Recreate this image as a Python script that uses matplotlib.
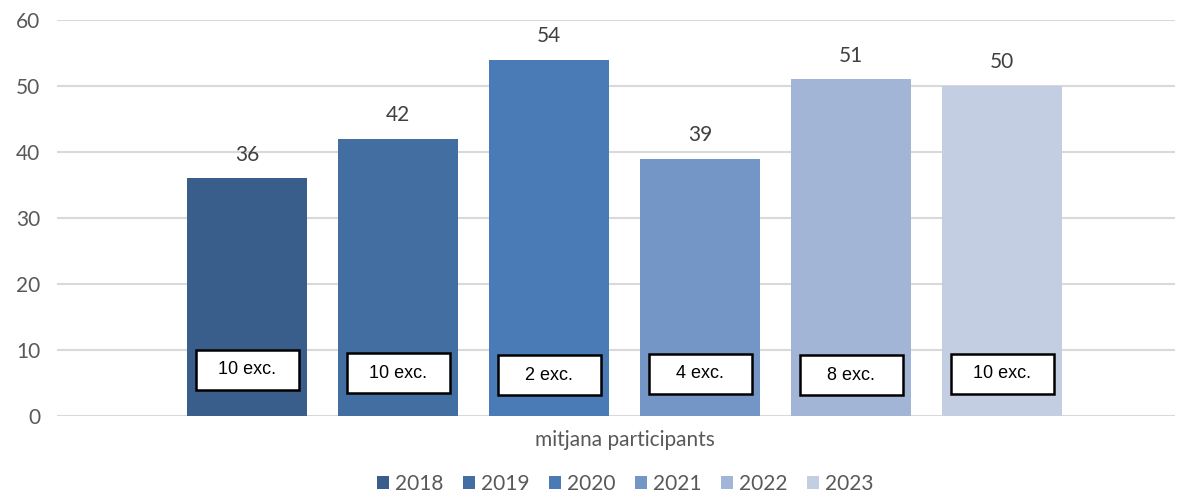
import matplotlib
matplotlib.use("Agg")
import matplotlib.pyplot as plt
from matplotlib.patches import Rectangle, Patch

years = ["2018", "2019", "2020", "2021", "2022", "2023"]
values = [36, 42, 54, 39, 51, 50]
box_labels = ["10 exc.", "10 exc.", "2 exc.", "4 exc.", "8 exc.", "10 exc."]
colors = ["#3A5E8C", "#436EA2", "#4A7BB7", "#7496C6", "#A2B5D6", "#C3CEE3"]
category = "mitjana participants"

plt.rcParams['font.family'] = ['Lato', 'DejaVu Sans']

fig = plt.figure(figsize=(11.79, 4.95), dpi=100)
ax = fig.add_axes([57/1179, 79/495, 1118/1179, 396/495])

pitch = 151.0
xs = list(range(len(years)))
bw = 120 / pitch
ax.bar(xs, values, width=bw, color=colors, zorder=2)

ax.set_xlim((57 - 247) / pitch, (1175 - 247) / pitch)
ax.set_ylim(0, 60)
ax.set_yticks(range(0, 61, 10))
ax.yaxis.grid(True, color="#D9D9D9", lw=1.5, zorder=0)
ax.set_axisbelow(True)
for s in ax.spines.values():
    s.set_visible(False)
ax.tick_params(axis='y', length=0, labelsize=15, labelcolor="#595959", pad=12)
ax.set_xticks([])

# value labels
for x, v in zip(xs, values):
    ax.annotate(str(v), (x, v), xytext=(0, 10), textcoords="offset points",
                ha="center", va="bottom", fontsize=15, color="#404040")

# boxes
box_w = 103 / pitch
box_h = 6.1
box_cy = [7.0, 6.5, 6.2, 6.4, 6.2, 6.4]
for x, lab, cy in zip(xs, box_labels, box_cy):
    ax.add_patch(Rectangle((x - box_w / 2, cy - box_h / 2), box_w, box_h,
                           facecolor="white", edgecolor="black", lw=1.8, zorder=3))
    ax.text(x, cy, lab, ha="center", va="center", fontsize=13,
            family="Liberation Sans", color="black", zorder=4)

fig.text(625 / 1179, 1 - 440 / 495, category, ha="center", va="center",
         fontsize=15, color="#595959")

handles = [Patch(facecolor=c, edgecolor="none") for c in colors]
leg = fig.legend(handles, years, loc="center", bbox_to_anchor=(625 / 1179, 1 - 484 / 495),
                 ncol=6, frameon=False, fontsize=15, handlelength=0.6, handleheight=0.6,
                 handletextpad=0.25, columnspacing=0.95)
for t in leg.get_texts():
    t.set_color("#595959")

fig.savefig("out.png", dpi=100)
